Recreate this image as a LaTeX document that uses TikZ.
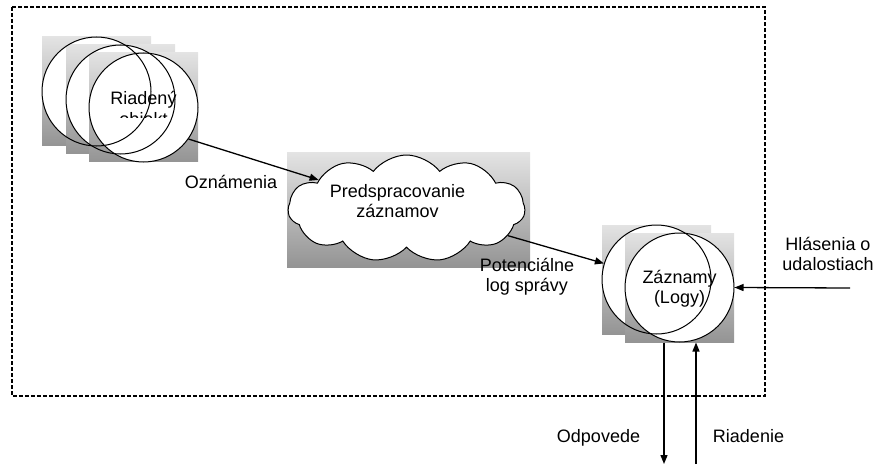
\documentclass[tikz,border=0pt]{standalone}
\usepackage{fontspec}
\setmainfont{Liberation Sans}
\usetikzlibrary{arrows.meta,shapes.symbols}
\begin{document}
\begin{tikzpicture}[x=1pt,y=-1pt,
  txt/.style={font=\fontsize{18}{20}\selectfont, inner sep=0pt},
  sq/.style={rectangle, minimum width=109pt, minimum height=109pt, inner sep=0pt,
             top color=black!11, bottom color=black!42, draw=none},
  cfill/.style={circle, minimum size=109pt, inner sep=0pt, fill=white, draw=none},
  cline/.style={circle, minimum size=109pt, inner sep=0pt, draw=black, line width=1pt},
  arr/.style={line width=1.3pt, -{Triangle[length=9pt,width=7pt]}},
  frame/.style={line width=1.3pt, dash pattern=on 4pt off 2pt}
]
\useasboundingbox (0,0) rectangle (874,465);

% dashed frame
\draw[frame] (12,7) rectangle (765,396);

% Riadeny objekt stack
\node[sq] (s1) at (96.5,91.5) {};
\node[cfill] (f1) at (96.5,91.5) {};
\node[sq] (s2) at (120.5,99.5) {};
\node[cfill] (f2) at (120.5,99.5) {};
\node[sq] (s3) at (143.5,107.5) {};
\node[cfill] (f3) at (143.5,107.5) {};
\node[cline] (c1) at (96.5,91.5) {};
\node[cline] (c2) at (120.5,99.5) {};
\node[cline] (c3) at (143.5,107.5) {};
\node[txt, anchor=base] (riad) at (143.5,105) {Riadený};
\begin{scope}
  \clip (100,108) rectangle (190,117.5);
  \node[txt, anchor=base] (obj) at (143.5,126) {objekt};
\end{scope}

% cloud
\node[rectangle, minimum width=243pt, minimum height=114pt, inner sep=0pt,
      top color=black!11, bottom color=black!42] (cbg) at (408.5,210) {};
\node[cloud, cloud puffs=11, cloud puff arc=105, aspect=2.2,
      minimum width=237pt, minimum height=107pt, inner sep=0pt,
      draw=black, line width=1pt, fill=white] (cloud) at (406.5,208.5) {};
\node[txt, align=center] (pred) at (397.5,201) {Predspracovanie\\záznamov};

% Zaznamy stack
\node[sq] (sA) at (656.5,279.5) {};
\node[cfill] (fA) at (656.5,279.5) {};
\node[sq] (sB) at (679.5,287.5) {};
\node[cfill] (fB) at (679.5,287.5) {};
\node[cline] (cA) at (656.5,279.5) {};
\node[cline] (cB) at (679.5,287.5) {};
\node[txt, align=center] (zazn) at (679.5,289) {Záznamy\\(Logy)};

% connectors
\draw[arr] (c3.-35) -- (cloud.162);
\node[txt, anchor=base] (ozn) at (231,188) {Oznámenia};

\draw[arr] (cloud.-15) -- (cA.163);
\node[txt, align=center] (pot) at (527,277) {Potenciálne\\log správy};

\coordinate (hlsrc) at (850,288);
\draw[arr] (hlsrc) -- (cB.east);
\node[txt, align=center] (hl) at (828,254) {Hlásenia o\\udalostiach};

\coordinate (odpEnd) at (664,464);
\coordinate (riaEnd) at (696,464);
\draw[arr] (cB.south -| odpEnd) -- (odpEnd);
\draw[arr] (riaEnd) -- (cB.south -| riaEnd);
\node[txt, anchor=base] (odp) at (598.5,442) {Odpovede};
\node[txt, anchor=base] (ria) at (748.5,442) {Riadenie};
\end{tikzpicture}
\end{document}
